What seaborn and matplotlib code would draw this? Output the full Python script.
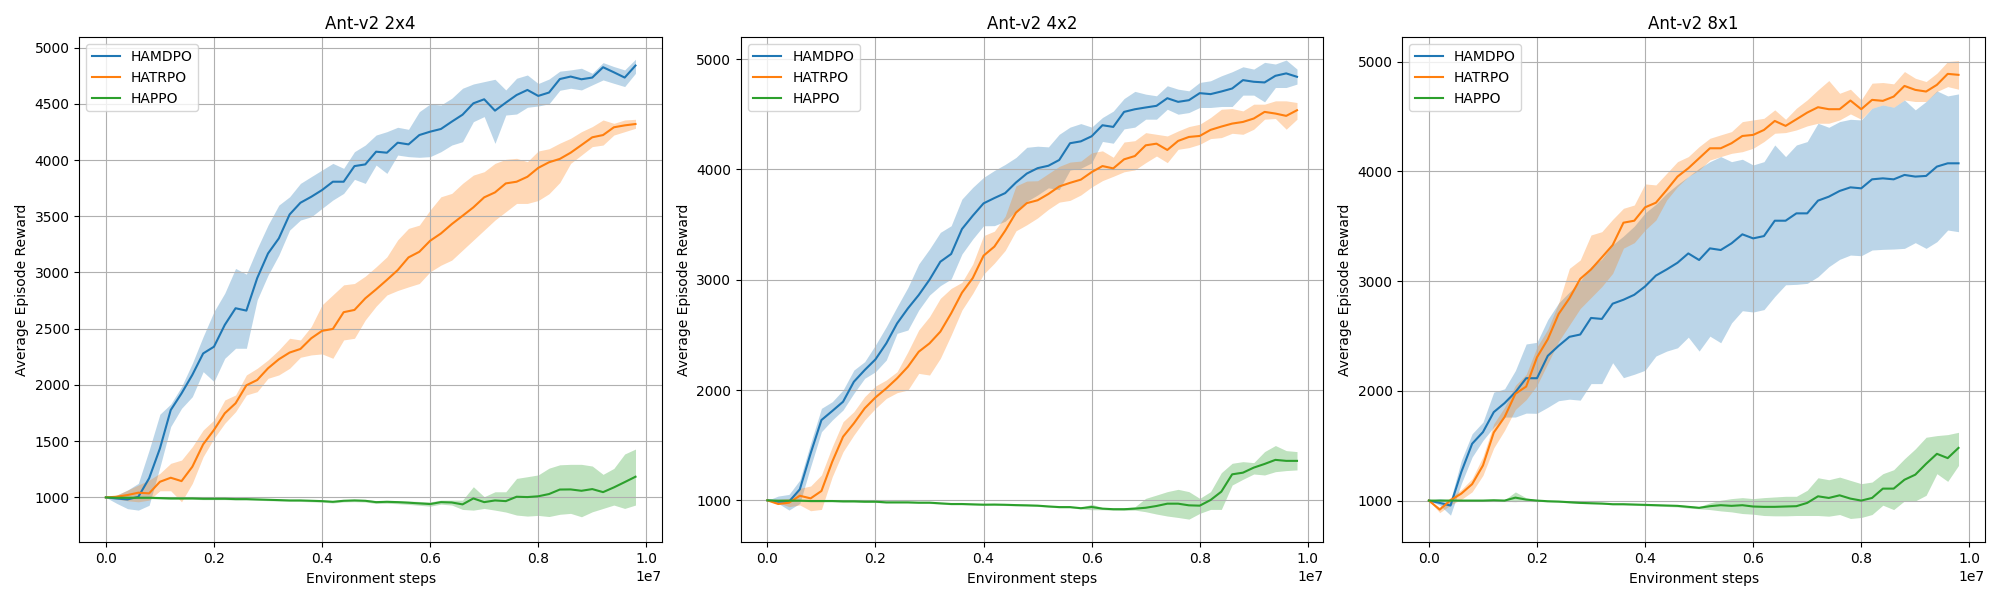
"""
Learning curves on Ant-v2 (2x4, 4x2, 8x1): mean episode reward with a
shaded spread for HAMDPO, HATRPO and HAPPO.
"""

import matplotlib
matplotlib.use("Agg")
import matplotlib.pyplot as plt
import seaborn as sns

# environment steps (every 2e5 steps)
STEPS = [0, 200000, 400000, 600000, 800000, 1000000, 1200000, 1400000, 1600000, 1800000,
         2000000, 2200000, 2400000, 2600000, 2800000, 3000000, 3200000, 3400000, 3600000, 3800000,
         4000000, 4200000, 4400000, 4600000, 4800000, 5000000, 5200000, 5400000, 5600000, 5800000,
         6000000, 6200000, 6400000, 6600000, 6800000, 7000000, 7200000, 7400000, 7600000, 7800000,
         8000000, 8200000, 8400000, 8600000, 8800000, 9000000, 9200000, 9400000, 9600000, 9800000]

ALGOS = ["HAMDPO", "HATRPO", "HAPPO"]
TITLES = ["Ant-v2 2x4", "Ant-v2 4x2", "Ant-v2 8x1"]

# ---- Ant-v2 2x4 ----
P1_HAMDPO_MEAN = [1000, 990, 982, 1005, 1170, 1435, 1777, 1925, 2090, 2280,
                  2340, 2534, 2682, 2661, 2950, 3169, 3303, 3516, 3620, 3673,
                  3733, 3807, 3807, 3946, 3961, 4074, 4065, 4154, 4139, 4222,
                  4252, 4276, 4341, 4403, 4504, 4540, 4439, 4510, 4578, 4623,
                  4570, 4600, 4720, 4742, 4718, 4733, 4825, 4780, 4733, 4840]
P1_HAMDPO_LOW = [1000, 947, 900, 887, 930, 1270, 1630, 1792, 1896, 2118,
                 2030, 2237, 2326, 2326, 2756, 2976, 3154, 3377, 3466, 3495,
                 3570, 3644, 3703, 3828, 3792, 3955, 3881, 4044, 4030, 4024,
                 4030, 4074, 4133, 4163, 4341, 4386, 4148, 4400, 4409, 4469,
                 4480, 4500, 4620, 4638, 4623, 4668, 4712, 4682, 4653, 4771]
P1_HAMDPO_HIGH = [1000, 1020, 1065, 1125, 1420, 1740, 1830, 1985, 2193, 2430,
                  2652, 2816, 3036, 2985, 3213, 3421, 3599, 3673, 3792, 3852,
                  3911, 3970, 3926, 4074, 4133, 4222, 4252, 4291, 4273, 4430,
                  4498, 4489, 4549, 4638, 4676, 4697, 4718, 4623, 4727, 4756,
                  4680, 4720, 4790, 4801, 4816, 4771, 4866, 4831, 4801, 4896]

P1_HATRPO_MEAN = [1000, 1006, 1021, 1042, 1036, 1139, 1175, 1145, 1273, 1472,
                  1600, 1748, 1837, 1997, 2044, 2148, 2228, 2288, 2320, 2415,
                  2481, 2498, 2647, 2667, 2770, 2850, 2934, 3021, 3134, 3184,
                  3282, 3347, 3430, 3504, 3579, 3668, 3712, 3792, 3807, 3851,
                  3930, 3980, 4010, 4065, 4133, 4202, 4222, 4291, 4308, 4320]
P1_HATRPO_LOW = [1000, 985, 970, 961, 976, 1059, 1059, 961, 1125, 1362,
                 1525, 1659, 1762, 1911, 1940, 2059, 2089, 2148, 2246, 2267,
                 2276, 2237, 2400, 2415, 2578, 2700, 2800, 2840, 2872, 2902,
                 3006, 3065, 3110, 3199, 3288, 3377, 3466, 3540, 3614, 3614,
                 3640, 3700, 3800, 3970, 4044, 4119, 4133, 4222, 4252, 4282]
P1_HATRPO_HIGH = [1000, 1021, 1065, 1110, 1154, 1214, 1303, 1332, 1451, 1599,
                  1688, 1866, 1911, 2089, 2148, 2222, 2311, 2415, 2400, 2519,
                  2712, 2801, 2890, 2902, 2967, 3050, 3139, 3290, 3392, 3421,
                  3555, 3673, 3703, 3792, 3866, 3896, 3970, 4006, 4015, 3985,
                  4080, 4100, 4150, 4193, 4252, 4297, 4356, 4326, 4356, 4362]

P1_HAPPO_MEAN = [1000, 997, 997, 997, 997, 994, 991, 991, 991, 988,
                 988, 988, 985, 985, 982, 979, 976, 973, 973, 970,
                 967, 961, 970, 973, 970, 958, 961, 958, 953, 947,
                 941, 958, 955, 938, 991, 958, 973, 967, 1006, 1003,
                 1010, 1030, 1070, 1071, 1059, 1074, 1047, 1089, 1136, 1184]
P1_HAPPO_LOW = [1000, 992, 990, 989, 989, 986, 983, 983, 983, 980,
                980, 980, 977, 977, 974, 971, 968, 965, 964, 961,
                957, 951, 960, 962, 959, 946, 948, 944, 938, 930,
                922, 940, 932, 893, 887, 902, 887, 870, 843, 834,
                840, 830, 850, 858, 828, 872, 902, 932, 902, 932]
P1_HAPPO_HIGH = [1000, 1002, 1004, 1005, 1005, 1002, 999, 999, 999, 996,
                 996, 996, 993, 993, 990, 987, 984, 981, 982, 979,
                 977, 971, 980, 984, 981, 970, 974, 972, 968, 964,
                 960, 976, 976, 976, 1095, 1006, 1050, 1050, 1169, 1184,
                 1200, 1260, 1290, 1294, 1294, 1279, 1205, 1258, 1386, 1430]

# ---- Ant-v2 4x2 ----
P2_HAMDPO_MEAN = [1000, 988, 988, 1100, 1426, 1728, 1810, 1894, 2075, 2181,
                  2278, 2423, 2604, 2740, 2861, 3000, 3163, 3233, 3459, 3580,
                  3692, 3740, 3785, 3881, 3962, 4011, 4033, 4085, 4237, 4254,
                  4300, 4400, 4385, 4521, 4545, 4561, 4576, 4645, 4612, 4627,
                  4691, 4682, 4706, 4733, 4809, 4794, 4788, 4848, 4870, 4839]
P2_HAMDPO_LOW = [1000, 973, 912, 973, 1305, 1622, 1728, 1819, 1970, 2106,
                 2166, 2272, 2514, 2544, 2725, 2861, 2946, 3006, 3233, 3369,
                 3489, 3490, 3530, 3620, 3710, 3768, 3833, 3816, 3994, 4010,
                 4059, 4253, 4237, 4367, 4383, 4455, 4455, 4545, 4500, 4515,
                 4561, 4561, 4570, 4570, 4673, 4673, 4612, 4742, 4742, 4773]
P2_HAMDPO_HIGH = [1000, 1039, 1054, 1184, 1517, 1834, 1894, 2000, 2181, 2257,
                  2408, 2574, 2755, 2930, 3142, 3278, 3429, 3489, 3731, 3837,
                  3927, 3990, 4045, 4108, 4200, 4210, 4204, 4318, 4383, 4415,
                  4383, 4470, 4528, 4642, 4707, 4682, 4667, 4758, 4727, 4712,
                  4788, 4803, 4848, 4885, 4930, 4909, 4970, 4955, 4991, 4909]

P2_HATRPO_MEAN = [1000, 967, 979, 1042, 1018, 1085, 1350, 1577, 1698, 1834,
                  1933, 2015, 2106, 2211, 2347, 2423, 2529, 2695, 2882, 3015,
                  3218, 3300, 3444, 3608, 3694, 3720, 3777, 3845, 3878, 3907,
                  3975, 4030, 4009, 4091, 4121, 4218, 4233, 4176, 4258, 4294,
                  4303, 4358, 4388, 4415, 4430, 4461, 4521, 4506, 4485, 4536]
P2_HATRPO_LOW = [1000, 979, 943, 958, 906, 918, 1214, 1441, 1592, 1728,
                 1834, 1924, 1976, 2000, 2151, 2136, 2287, 2498, 2725, 2876,
                 3050, 3150, 3265, 3443, 3498, 3560, 3638, 3703, 3719, 3768,
                 3840, 3898, 3937, 3978, 3995, 4061, 4121, 4061, 4182, 4197,
                 4227, 4279, 4288, 4327, 4318, 4364, 4455, 4461, 4364, 4455]
P2_HATRPO_HIGH = [1000, 1009, 1018, 1109, 1130, 1230, 1486, 1713, 1804, 1940,
                  2036, 2091, 2166, 2347, 2544, 2665, 2831, 2921, 2976, 3142,
                  3399, 3440, 3575, 3850, 3894, 3897, 3962, 4027, 4066, 4075,
                  4150, 4168, 4110, 4248, 4260, 4333, 4318, 4303, 4348, 4388,
                  4409, 4470, 4545, 4551, 4530, 4591, 4591, 4621, 4621, 4606]

P2_HAPPO_MEAN = [1000, 997, 997, 997, 994, 994, 994, 991, 991, 988,
                 988, 982, 982, 982, 979, 979, 973, 967, 967, 964,
                 961, 962, 960, 957, 955, 952, 945, 939, 939, 929,
                 940, 925, 920, 920, 925, 933, 949, 970, 970, 955,
                 952, 1003, 1079, 1236, 1251, 1297, 1330, 1367, 1358, 1358]
P2_HAPPO_LOW = [1000, 992, 990, 990, 987, 987, 987, 984, 984, 981,
                981, 975, 975, 975, 972, 972, 966, 960, 960, 957,
                954, 955, 953, 950, 948, 945, 938, 932, 932, 922,
                915, 915, 910, 908, 912, 897, 876, 858, 845, 830,
                882, 918, 918, 1139, 1191, 1239, 1230, 1260, 1270, 1276]
P2_HAPPO_HIGH = [1000, 1002, 1004, 1004, 1001, 1001, 1001, 998, 998, 995,
                 995, 989, 989, 989, 986, 986, 980, 974, 974, 971,
                 968, 969, 967, 964, 962, 959, 952, 946, 946, 936,
                 965, 935, 930, 932, 942, 1018, 1048, 1079, 1100, 1079,
                 1018, 1079, 1251, 1336, 1351, 1342, 1442, 1497, 1451, 1442]

# ---- Ant-v2 8x1 ----
P3_HAMDPO_MEAN = [1000, 979, 955, 1261, 1518, 1624, 1806, 1888, 1988, 2115,
                  2115, 2319, 2410, 2492, 2513, 2664, 2655, 2794, 2830, 2875,
                  2951, 3050, 3106, 3167, 3252, 3192, 3298, 3283, 3344, 3426,
                  3389, 3410, 3550, 3550, 3617, 3617, 3733, 3769, 3821, 3854,
                  3845, 3927, 3936, 3927, 3967, 3952, 3958, 4043, 4073, 4073]
P3_HAMDPO_LOW = [1000, 958, 867, 1155, 1397, 1548, 1670, 1761, 1761, 1797,
                 1795, 1850, 1910, 1924, 1915, 2066, 2066, 2256, 2120, 2151,
                 2187, 2317, 2362, 2392, 2489, 2362, 2498, 2438, 2619, 2730,
                 2718, 2740, 2860, 2966, 2970, 2979, 3040, 3131, 3198, 3237,
                 3231, 3283, 3289, 3292, 3298, 3350, 3298, 3359, 3465, 3450]
P3_HAMDPO_HIGH = [1000, 1018, 1003, 1367, 1609, 1715, 1988, 2018, 2185, 2427,
                  2442, 2650, 2800, 2900, 3000, 3130, 3200, 3330, 3410, 3500,
                  3620, 3700, 3800, 3880, 3952, 4027, 4088, 4134, 4088, 4110,
                  4058, 4088, 4240, 4134, 4240, 4271, 4438, 4401, 4453, 4474,
                  4468, 4575, 4605, 4584, 4650, 4560, 4636, 4733, 4687, 4705]

P3_HATRPO_MEAN = [1000, 918, 1003, 1064, 1150, 1320, 1620, 1761, 1973, 2039,
                  2306, 2470, 2700, 2843, 3020, 3106, 3216, 3328, 3532, 3550,
                  3672, 3714, 3830, 3952, 4028, 4119, 4210, 4210, 4256, 4322,
                  4332, 4377, 4459, 4414, 4474, 4535, 4584, 4566, 4566, 4645,
                  4566, 4651, 4642, 4681, 4778, 4742, 4727, 4788, 4888, 4879]
P3_HATRPO_LOW = [1000, 890, 960, 1010, 1080, 1230, 1480, 1640, 1830, 1920,
                 2050, 2250, 2450, 2600, 2750, 2850, 2950, 3070, 3300, 3350,
                 3465, 3556, 3739, 3860, 3952, 4012, 4103, 4134, 4164, 4179,
                 4210, 4271, 4347, 4353, 4377, 4414, 4438, 4438, 4468, 4523,
                 4474, 4575, 4605, 4584, 4650, 4636, 4636, 4727, 4772, 4748]
P3_HATRPO_HIGH = [1000, 940, 1030, 1100, 1200, 1400, 1700, 1850, 2050, 2150,
                  2400, 2560, 2800, 3116, 3192, 3420, 3450, 3562, 3663, 3693,
                  3885, 3876, 3982, 4088, 4134, 4225, 4301, 4332, 4362, 4453,
                  4468, 4483, 4560, 4474, 4575, 4651, 4742, 4827, 4711, 4748,
                  4651, 4803, 4809, 4797, 4909, 4848, 4818, 4894, 5000, 5009]

P3_HAPPO_MEAN = [1000, 1000, 1000, 1000, 1000, 1000, 1003, 1000, 1027, 1009,
                 1000, 994, 991, 985, 979, 976, 973, 967, 967, 964,
                 961, 958, 955, 952, 943, 934, 949, 958, 952, 958,
                 946, 943, 943, 946, 949, 979, 1039, 1024, 1048, 1018,
                 1000, 1024, 1109, 1109, 1190, 1236, 1335, 1426, 1387, 1480]
P3_HAPPO_LOW = [1000, 995, 995, 995, 995, 995, 996, 994, 990, 1000,
                994, 988, 985, 979, 973, 970, 967, 961, 960, 957,
                953, 950, 946, 942, 932, 925, 918, 906, 897, 882,
                876, 864, 861, 861, 864, 864, 864, 858, 873, 837,
                846, 873, 958, 918, 997, 997, 1048, 1245, 1175, 1320]
P3_HAPPO_HIGH = [1000, 1005, 1005, 1005, 1005, 1005, 1010, 1006, 1079, 1025,
                 1006, 1000, 997, 991, 985, 982, 979, 973, 974, 971,
                 969, 966, 964, 962, 954, 945, 979, 1003, 1018, 1027,
                 1018, 1027, 1033, 1039, 1039, 1094, 1208, 1190, 1214, 1184,
                 1154, 1169, 1245, 1281, 1381, 1471, 1577, 1592, 1601, 1622]

COLORS = {"HAMDPO": "tab:blue", "HATRPO": "tab:orange", "HAPPO": "tab:green"}

PANELS = [
    {"HAMDPO": (P1_HAMDPO_MEAN, P1_HAMDPO_LOW, P1_HAMDPO_HIGH),
     "HATRPO": (P1_HATRPO_MEAN, P1_HATRPO_LOW, P1_HATRPO_HIGH),
     "HAPPO": (P1_HAPPO_MEAN, P1_HAPPO_LOW, P1_HAPPO_HIGH)},
    {"HAMDPO": (P2_HAMDPO_MEAN, P2_HAMDPO_LOW, P2_HAMDPO_HIGH),
     "HATRPO": (P2_HATRPO_MEAN, P2_HATRPO_LOW, P2_HATRPO_HIGH),
     "HAPPO": (P2_HAPPO_MEAN, P2_HAPPO_LOW, P2_HAPPO_HIGH)},
    {"HAMDPO": (P3_HAMDPO_MEAN, P3_HAMDPO_LOW, P3_HAMDPO_HIGH),
     "HATRPO": (P3_HATRPO_MEAN, P3_HATRPO_LOW, P3_HATRPO_HIGH),
     "HAPPO": (P3_HAPPO_MEAN, P3_HAPPO_LOW, P3_HAPPO_HIGH)},
]
YLIMS = [(600, 5092), (619, 5198), (619, 5222)]
YTICKS = [list(range(1000, 5001, 500)), list(range(1000, 5001, 1000)),
          list(range(1000, 5001, 1000))]


def plot_panel(ax, panel, title, ylim, yticks):
    for algo in ALGOS:
        mean, low, high = panel[algo]
        sns.lineplot(x=STEPS, y=mean, color=COLORS[algo], label=algo,
                     errorbar=None, linewidth=1.5, ax=ax)
        ax.fill_between(STEPS, low, high, color=COLORS[algo], alpha=0.3,
                        linewidth=0)
    ax.set_title(title)
    ax.set_xlabel("Environment steps")
    ax.set_ylabel("Average Episode Reward")
    ax.set_ylim(*ylim)
    ax.set_yticks(yticks)
    ax.grid(True)
    ax.legend(loc="upper left")


def main():
    fig, axes = plt.subplots(1, 3, figsize=(20, 6), dpi=100)
    for ax, panel, title, ylim, yticks in zip(axes, PANELS, TITLES, YLIMS, YTICKS):
        plot_panel(ax, panel, title, ylim, yticks)
    fig.subplots_adjust(left=0.0397, right=0.9925, top=0.938, bottom=0.096,
                        wspace=0.1355)
    fig.savefig("out.png", dpi=100)
    plt.close(fig)


if __name__ == "__main__":
    main()
